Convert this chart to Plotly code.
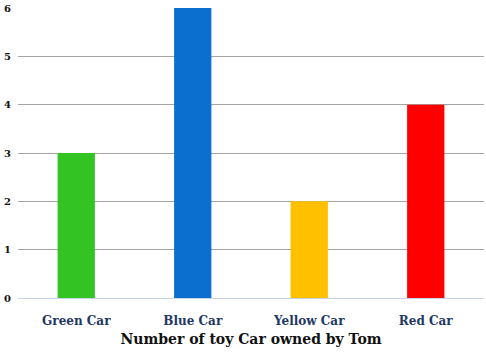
import plotly.graph_objects as go

categories = ["Green Car", "Blue Car", "Yellow Car", "Red Car"]
values = [3, 6, 2, 4]
colors = ["#33C423", "#0B6FD0", "#FFC000", "#FF0000"]
y_ticks = [0, 1, 2, 3, 4, 5, 6]

fig = go.Figure()
fig.add_trace(go.Bar(x=categories, y=values, marker=dict(color=colors, line=dict(width=0)), width=0.32))

fig.update_layout(
    width=486, height=354,
    margin=dict(l=18, r=2, t=8, b=56),
    paper_bgcolor="white", plot_bgcolor="white",
    showlegend=False,
    font=dict(family="Liberation Serif", color="#000000"),
)
fig.update_xaxes(
    tickfont=dict(family="DejaVu Serif", size=12, color="#1F3864", weight="bold"),
    title=dict(text="<b>Number of toy Car owned by Tom</b>", font=dict(family="DejaVu Serif", size=14, color="#111111"), standoff=6),
    showline=True, linecolor="#C8D4E8", linewidth=1, ticks="", showgrid=False,
    ticklabelstandoff=12,
)
fig.update_yaxes(
    range=[0, 6], tickvals=y_ticks,
    tickfont=dict(family="DejaVu Serif", size=10, color="#111111", weight="bold"),
    showgrid=True, gridcolor="#A8A4A4", gridwidth=1, zeroline=False, ticks="",
    ticklabelstandoff=6,
)
fig.write_html("out.html")
